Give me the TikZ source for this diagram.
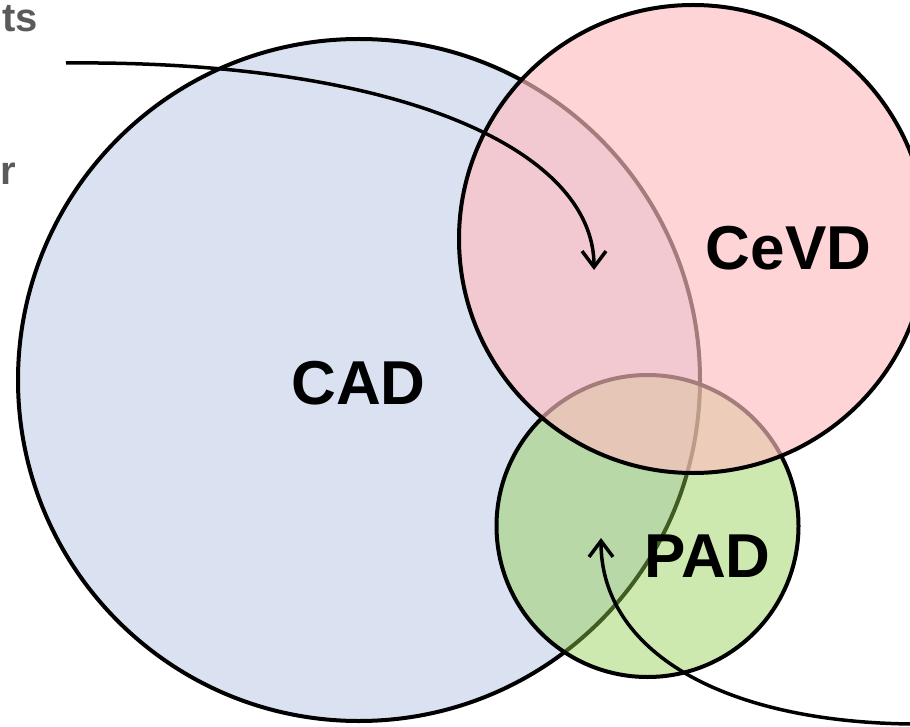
\documentclass[tikz,border=0pt]{standalone}
\usepackage{fontspec}
\setmainfont{Liberation Sans}
\usepackage{tikz}
\usetikzlibrary{arrows.meta,positioning}
\definecolor{cadblue}{RGB}{218,226,242}
\definecolor{cevdred}{RGB}{255,189,192}
\definecolor{padgreen}{RGB}{144,206,77}
\definecolor{cuttext}{HTML}{5A5A5A}
\tikzset{
  setcircle/.style={circle, draw=black, line width=4pt, inner sep=0pt, outer sep=0pt},
  setlabel/.style={font=\fontsize{62}{70}\selectfont\bfseries, inner sep=0pt},
  cutlabel/.style={font=\fontsize{40}{44}\selectfont\bfseries, text=cuttext, inner sep=0pt, anchor=base east},
  arrow/.style={-{Straight Barb[length=16pt, width=24pt]}, line width=3.5pt, draw=black}
}
\begin{document}
\begin{tikzpicture}[x=1pt, y=-1pt]
  \useasboundingbox (0,0) rectangle (910,727);

  \node[setcircle, fill=cadblue, minimum size=682pt] (cad) at (359,380) {};
  \node[setcircle, fill=padgreen, fill opacity=0.45, minimum size=302pt] (pad) at (647.5,526) {};
  \node[setcircle, fill=cevdred, fill opacity=0.65, minimum size=468pt] (cevd) at (693,239) {};

  \node[setlabel] (cadtxt) at (358.5,383.5) {CAD};
  \node[setlabel] (cevdtxt) at (788.5,248) {CeVD};
  \node[setlabel] (padtxt) at (707.5,556) {PAD};

  \node[cutlabel] (cutts) at (38,32) {ts};
  \node[cutlabel] (cutr) at (16,185) {r};

  \coordinate (srcA) at (66,63);
  \coordinate (tipA) at (594,270);
  \coordinate (srcB) at (912,724);
  \coordinate (tipB) at (601,538);

  \draw[arrow] (srcA) .. controls (400,60) and (594,150) .. (tipA);
  \draw[arrow] (srcB) .. controls (720,722) and (601,650) .. (tipB);
\end{tikzpicture}
\end{document}
